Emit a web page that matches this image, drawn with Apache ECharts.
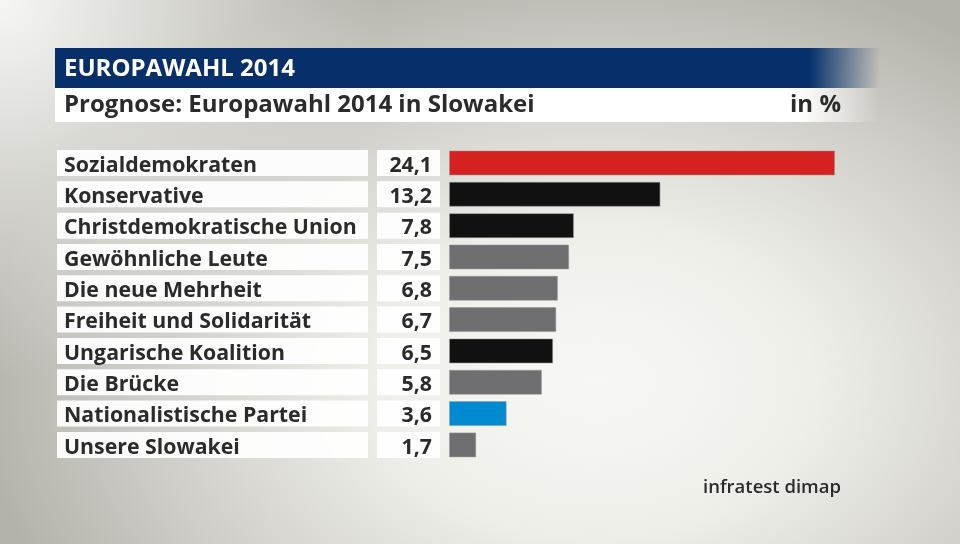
<!DOCTYPE html>
<html>
<head>
<meta charset="utf-8">
<script src="https://cdn.jsdelivr.net/npm/echarts@6/dist/echarts.min.js"></script>
<style>
html,body{margin:0;padding:0;}
body{width:960px;height:544px;overflow:hidden;
background:
 radial-gradient(circle 380px at 0% 0%, rgba(246,246,243,1) 0%, rgba(246,246,243,0) 100%),
 radial-gradient(ellipse 620px 430px at 62% 70%, #f7f7f4 0%, #efefea 35%, #cfcec8 72%, rgba(179,178,171,1) 100%),
 #b3b2ab;}
#chart{width:960px;height:544px;}
</style>
</head>
<body>
<div id="chart"></div>
<script>
const title = 'EUROPAWAHL 2014';
const subtitle = 'Prognose: Europawahl 2014 in Slowakei';
const unit = 'in %';
const source = 'infratest dimap';
const categories = ['Sozialdemokraten','Konservative','Christdemokratische Union','Gewöhnliche Leute','Die neue Mehrheit','Freiheit und Solidarität','Ungarische Koalition','Die Brücke','Nationalistische Partei','Unsere Slowakei'];
const values = [24.1, 13.2, 7.8, 7.5, 6.8, 6.7, 6.5, 5.8, 3.6, 1.7];
const barColors = ['#d52120','#111111','#111111','#6f6f71','#6f6f71','#6f6f71','#111111','#6f6f71','#008bd0','#6f6f71'];

const fmt = v => v.toFixed(1).replace('.', ',');
const FONT = '"Open Sans", sans-serif';
const chart = echarts.init(document.getElementById('chart'), null, {renderer:'canvas'});
chart.setOption({
  backgroundColor: 'transparent',
  animation: false,
  grid: {left: 449, top: 147.3, width: 400.5, height: 313.3, containLabel: false},
  xAxis: {type:'value', min:0, max:25, show:false},
  yAxis: {
    type:'category', data: categories, inverse: true,
    axisLine:{show:false}, axisTick:{show:false}, splitLine:{show:false},
    axisLabel: {
      margin: 9,
      formatter: (val, idx) => `{n|${val}}{g| }{v|${fmt(values[idx])}}`,
      rich: {
        n: {width:304, height:21, lineHeight:21, padding:[5,0,0,7], backgroundColor:'rgba(255,255,255,0.93)', align:'left',
            fontFamily:FONT, fontSize:21.3, fontWeight:'bold', color:'#2b2b2b'},
        g: {width:9, height:26, fontSize:10},
        v: {width:55, height:21, lineHeight:21, padding:[5,8,0,0], backgroundColor:'rgba(255,255,255,0.93)', align:'right',
            fontFamily:FONT, fontSize:21.3, fontWeight:'bold', color:'#2b2b2b'}
      }
    }
  },
  series: [{
    type:'bar', barWidth:25,
    data: values.map((v,i) => ({value:v, itemStyle:{color:barColors[i]}})),
    itemStyle: {borderColor:'rgba(150,150,150,0.5)', borderWidth:1}
  }],
  graphic: [
    {type:'rect', shape:{x:55, y:48, width:825, height:40}, style:{fill:{type:'linear', x:0, y:0, x2:1, y2:0, colorStops:[
      {offset:0, color:'rgba(7,48,107,1)'}, {offset:0.915, color:'rgba(7,48,107,1)'}, {offset:1, color:'rgba(7,48,107,0)'}]}}},
    {type:'rect', shape:{x:55, y:88, width:825, height:34}, style:{fill:{type:'linear', x:0, y:0, x2:1, y2:0, colorStops:[
      {offset:0, color:'rgba(255,255,255,1)'}, {offset:0.9, color:'rgba(255,255,255,1)'}, {offset:1, color:'rgba(255,255,255,0)'}]}}},
    {type:'text', left:64, top:57, style:{text:title, fill:'#ffffff', font:'bold 24px ' + FONT}},
    {type:'text', left:64, top:93, style:{text:subtitle, fill:'#2b2b2b', font:'bold 24px ' + FONT}},
    {type:'text', right:119, top:93, style:{text:unit, fill:'#2b2b2b', font:'bold 24px ' + FONT}},
    {type:'text', right:119, top:478, style:{text:source, fill:'#2b2b2b', font:'600 18.5px ' + FONT}}
  ]
});
</script>
</body>
</html>
